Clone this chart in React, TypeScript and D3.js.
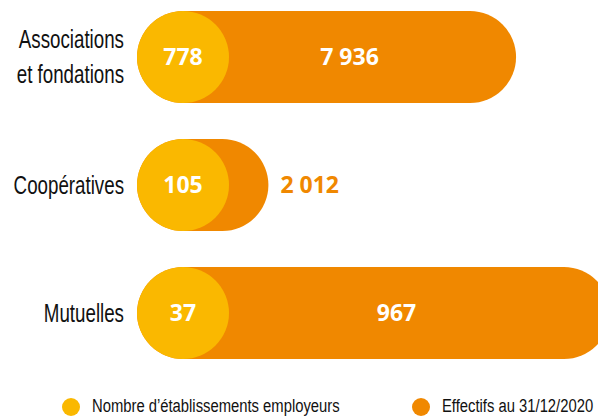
import * as d3 from 'd3'
import {useRef, useLayoutEffect} from "react";

// categories (label lines) and the two series
const categories = ['Associations et fondations', 'Coopératives', 'Mutuelles']
const categoryLines = [['Associations', 'et fondations'], ['Coopératives'], ['Mutuelles']]
const etablissements = [778, 105, 37]
const effectifs = [7936, 2012, 967]
// relative bar length as drawn in the picture (max = 100)
const barLength = [78, 20, 100]
const legendLabels = ['Nombre d\u2019établissements employeurs', 'Effectifs au 31/12/2020']

const fmt = (v: number) => d3.format(',')(v).replace(/,/g, ' ')

const App = () => {
  const svgRef = useRef<SVGSVGElement>(null)

  const width = 598
  const height = 417
  const yellow = '#FAB800'
  const orange = '#F08800'
  // no condensed font installed: Liberation Sans squeezed horizontally
  const labelFont = "'Liberation Sans', Arial, sans-serif"
  const valueFont = "'Open Sans', 'DejaVu Sans', sans-serif"

  useLayoutEffect(() => {
    const svg = d3.select(svgRef.current)
    svg.selectAll('*').remove()

    const r = 46
    const cx = 183

    const yScale = d3.scalePoint<string>()
      .domain(categories)
      .range([57, 313])

    const xScale = d3.scaleLinear()
      .domain([0, 100])
      .range([cx, 610])

    const color = d3.scaleOrdinal<string>()
      .domain(legendLabels)
      .range([yellow, orange])

    const rows = svg.selectAll('g.row')
      .data(categories)
      .join('g')
      .attr('class', 'row')
      .attr('transform', (d) => `translate(0,${yScale(d)})`)

    // orange stadium bar
    rows.append('rect')
      .attr('x', cx - r)
      .attr('y', -r)
      .attr('width', (d, i) => xScale(barLength[i]) - (cx - r))
      .attr('height', 2 * r)
      .attr('rx', r)
      .attr('fill', color(legendLabels[1]))

    // yellow circle
    rows.append('circle')
      .attr('cx', cx)
      .attr('r', r)
      .attr('fill', color(legendLabels[0]))

    rows.append('text')
      .attr('x', cx)
      .attr('dy', '0.36em')
      .attr('text-anchor', 'middle')
      .attr('fill', '#fff')
      .attr('font-family', valueFont)
      .attr('font-weight', 700)
      .attr('font-size', 23)
      .text((d, i) => fmt(etablissements[i]))

    const inside = (i: number) => xScale(barLength[i]) - cx > 120

    rows.append('text')
      .attr('x', (d, i) => {
        const end = xScale(barLength[i])
        return inside(i) ? (cx + end) / 2 : end + 12
      })
      .attr('dy', '0.36em')
      .attr('text-anchor', (d, i) => inside(i) ? 'middle' : 'start')
      .attr('fill', (d, i) => inside(i) ? '#fff' : orange)
      .attr('font-family', valueFont)
      .attr('font-weight', 700)
      .attr('font-size', 23)
      .text((d, i) => fmt(effectifs[i]))

    // category labels
    rows.append('text')
      .attr('transform', 'translate(124,0) scale(0.75,1)')
      .attr('text-anchor', 'end')
      .attr('font-family', labelFont)
      .attr('font-size', 25)
      .attr('fill', '#111')
      .each(function (d, i) {
        const lines = categoryLines[i]
        const t = d3.select(this)
        lines.forEach((line, j) => {
          t.append('tspan')
            .attr('x', 0)
            .attr('y', lines.length > 1 ? (j === 0 ? -9 : 26) : 9)
            .text(line)
        })
      })

    // legend
    const legend = svg.append('g')
      .selectAll('g')
      .data(legendLabels)
      .join('g')
      .attr('transform', (d, i) => `translate(${i === 0 ? 71 : 421},407)`)

    legend.append('circle')
      .attr('r', 9)
      .attr('fill', (d) => color(d))

    legend.append('text')
      .attr('transform', 'translate(21,5) scale(0.78,1)')
      .attr('font-family', labelFont)
      .attr('font-size', 19)
      .attr('fill', '#111')
      .text((d) => d)
  }, [])

  return (
    <svg ref={svgRef} width={width} height={height}
         style={{position: 'absolute', left: 0, top: 0, background: '#fff'}}/>
  )
}

export default App;
